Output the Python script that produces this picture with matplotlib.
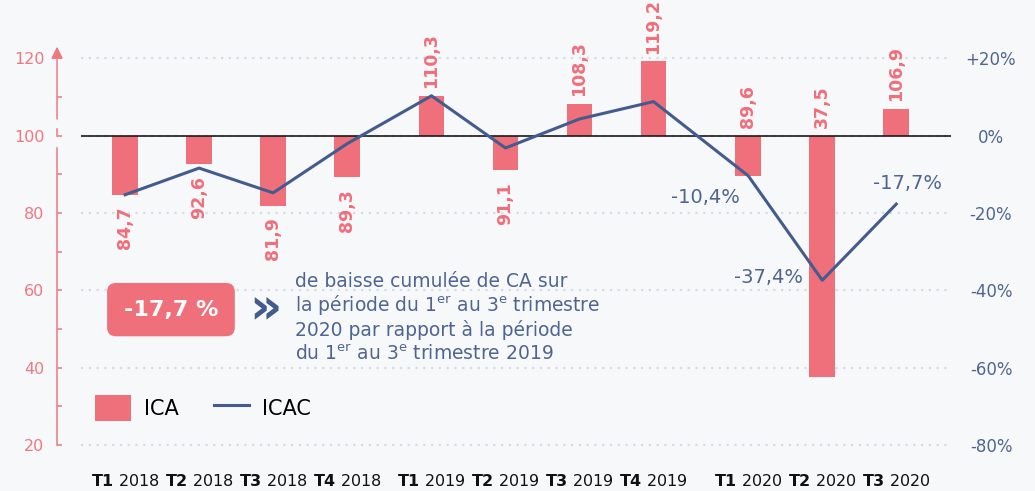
import numpy as np
import matplotlib
matplotlib.use("Agg")
import matplotlib.pyplot as plt
from matplotlib import transforms

plt.rcParams["font.family"] = ["DejaVu Sans"]
plt.rcParams["mathtext.fontset"] = "dejavusans"

# data
quarters = ["T1", "T2", "T3", "T4", "T1", "T2", "T3", "T4", "T1", "T2", "T3"]
years = ["2018"] * 4 + ["2019"] * 4 + ["2020"] * 3
ica = [84.7, 92.6, 81.9, 89.3, 110.3, 91.1, 108.3, 119.2, 89.6, 37.5, 106.9]
icac = [-15.3, -8.4, -14.8, -2.1, 10.3, -3.2, 4.3, 8.8, -10.4, -37.4, -17.7]
left_ticks = [20, 40, 60, 80, 100, 120]
right_ticks = [-80, -60, -40, -20, 0, 20]

bg = "#f7f8fa"
pink = "#ef6f7b"
pink_txt = "#ef7782"
blue = "#435c8d"
blue_txt = "#4e6593"

year_gap = {"2018": 0.0, "2019": 0.14, "2020": 0.42}
x = np.arange(len(ica)) + np.array([year_gap[y] for y in years])
ica = np.array(ica)
icac = np.array(icac)

fig = plt.figure(figsize=(10.35, 4.91), dpi=100, facecolor=bg)
ax = fig.add_axes([0.0783, 0.0544, 0.8406, 0.9214])
ax.set_facecolor(bg)
ax.set_xlim(-0.595, 11.16)
ax.set_ylim(15, 132)

# bars from the 100 baseline
bars = ax.bar(x, ica - 100, bottom=100, width=0.35, color=pink, zorder=2, label="ICA")
ax.axhline(100, color="#1a1a1a", lw=1.2, zorder=3)
line, = ax.plot(x, 100 + icac, color=blue, lw=2.2, zorder=4, label="ICAC")

# value labels on bars
for xi, v, yr in zip(x, ica, years):
    txt = "{:.1f}".format(v).replace(".", ",")
    if v > 100 or yr == "2020":
        ax.annotate(txt, (xi, max(v, 100)), xytext=(0, 5.5), textcoords="offset points",
                    rotation=90, ha="center", va="bottom", color=pink,
                    fontsize=12.5, fontweight="bold", zorder=5)
    else:
        ax.annotate(txt, (xi, v), xytext=(0, -8.5), textcoords="offset points",
                    rotation=90, ha="center", va="top", color=pink,
                    fontsize=12.5, fontweight="bold", zorder=5)

# labels on the 2020 line points
for xi, v, dx, dy in [(x[8], icac[8], -0.58, -5.5), (x[9], icac[9], -0.73, 0.6),
                      (x[10], icac[10], 0.15, 5.4)]:
    ax.text(xi + dx, 100 + v + dy, "{:.1f}%".format(v).replace(".", ","),
            ha="center", va="center", color=blue_txt, fontsize=14, zorder=5)

# grid
ax.set_yticks(left_ticks)
ax.set_yticks([30, 50, 70, 90, 110], minor=True)
ax.yaxis.grid(True, which="major", color="#d8dbe1", lw=1.6, linestyle=(0, (1, 2.5)))
ax.set_axisbelow(True)

for s in ["top", "right", "bottom"]:
    ax.spines[s].set_visible(False)
ax.spines["left"].set_position(("outward", 17.3))
ax.spines["left"].set_color(pink_txt)
ax.spines["left"].set_linewidth(1.1)
ax.spines["left"].set_bounds(20, 96.8)
ax.tick_params(axis="y", which="both", direction="in", length=3.6, width=1.1,
               color=pink_txt, labelcolor=pink_txt, labelsize=11.5, pad=9)
ax.yaxis.get_major_ticks()[-1].tick1line.set_visible(False)

# upper part of the broken left axis with arrow
trans = transforms.blended_transform_factory(ax.transAxes, ax.transData)
xa = -24 / 870
ax.annotate("", xy=(xa, 123), xytext=(xa, 104.3), xycoords=trans, textcoords=trans,
            arrowprops=dict(arrowstyle="-|>,head_length=0.7,head_width=0.35",
                            color=pink_txt, lw=1.1, shrinkA=0, shrinkB=0),
            annotation_clip=False)
ax.plot([xa, xa], [99.9, 101.6], transform=trans, color=pink_txt, lw=1.1, clip_on=False)

# x tick labels
ax.set_xticks(x, [r"$\mathbf{%s}$ %s" % (q, y) for q, y in zip(quarters, years)])
ax.tick_params(axis="x", length=0, pad=6, labelsize=11.5, labelcolor="#111111")

# right axis in percent
ax2 = ax.twinx()
ax2.set_ylim(15 - 100, 132 - 100)
ax2.set_yticks(right_ticks,
               [("+%d%%" % t) if t > 0 else ("%d%%" % t) for t in right_ticks])
for s in ax2.spines.values():
    s.set_visible(False)
ax2.tick_params(axis="y", length=0, pad=28.8, labelcolor=blue_txt, labelsize=12)
for lab in ax2.get_yticklabels():
    lab.set_horizontalalignment("center")

# highlighted box and description
ax.text(0.62, 55.0, "-17,7 %", ha="center", va="center", color="white",
        fontsize=16, fontweight="bold", zorder=6,
        bbox=dict(boxstyle="round,pad=0.75,rounding_size=0.4", fc=pink, ec="none"))
ax.text(1.89, 55.2, "»", ha="center", va="center", color=blue, fontsize=36,
        fontweight="bold", zorder=6)
desc = ["de baisse cumulée de CA sur",
        r"la période du 1$^{\mathrm{er}}$ au 3$^{\mathrm{e}}$ trimestre",
        "2020 par rapport à la période",
        r"du 1$^{\mathrm{er}}$ au 3$^{\mathrm{e}}$ trimestre 2019"]
for txt, yv in zip(desc, [62.4, 56.2, 49.7, 43.5]):
    ax.text(2.30, yv, txt, ha="left", va="center", color=blue_txt, fontsize=13.5, zorder=6)

ax.legend(handles=[bars, line], loc="center left", bbox_to_anchor=(-0.405, 29.56),
          bbox_transform=ax.transData, ncol=2, frameon=False, fontsize=15,
          borderpad=0, borderaxespad=0, handlelength=1.7, handleheight=1.5,
          handletextpad=0.63, columnspacing=1.7)

fig.savefig("out.png", dpi=100, facecolor=bg)
